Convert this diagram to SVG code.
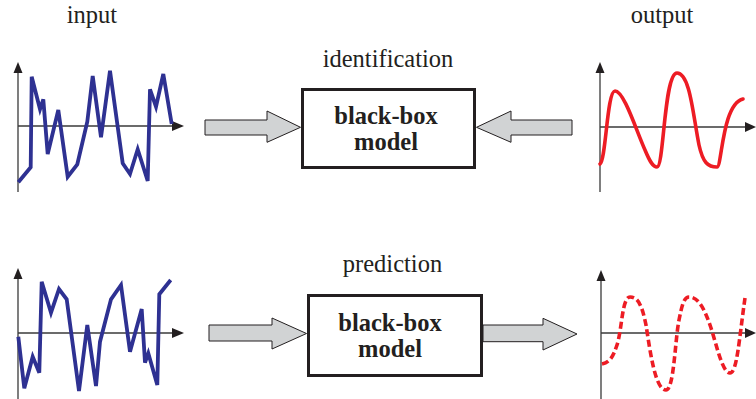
<svg xmlns="http://www.w3.org/2000/svg" width="756" height="399" viewBox="0 0 756 399">
<style>
.lbl{font-family:"Liberation Serif","Times New Roman",serif;font-size:24.5px;fill:#231f20;text-anchor:middle}
.bold{font-family:"Liberation Serif","Times New Roman",serif;font-size:24.5px;font-weight:bold;fill:#231f20;text-anchor:middle}
.box{fill:#fff;stroke:#231f20;stroke-width:3}
.arr{fill:#d1d3d4;stroke:#231f20;stroke-width:1}
.axis{stroke:#3a3a3a;stroke-width:1.3;fill:none}
.head{fill:#231f20}
.blue{fill:none;stroke:#2e3192;stroke-width:3.8;stroke-linejoin:miter;stroke-miterlimit:4}
.red{fill:none;stroke:#ed1c24;stroke-width:3.6;stroke-linecap:round}
.dash{stroke-dasharray:7 3.5;stroke-linecap:butt}
</style>
<rect width="756" height="399" fill="#fff"/>

<g id="input-plot">
<text class="lbl" x="92" y="23">input</text>
<line class="axis" x1="18" y1="192" x2="18" y2="70"/>
<polygon class="head" points="18,62 13.5,73 22.5,73"/>
<line class="axis" x1="18" y1="126" x2="175" y2="126"/>
<polygon class="head" points="184,126 172,121 172,131"/>
<polyline class="blue" points="18.3,182.3 30.7,167.3 31.7,76.7 40,109.3 43.3,99.3 47.7,154 58.3,110 67.7,176.7 77.3,164.3 87.3,121.7 92.7,76 101,137.3 110,70.7 122.7,163.3 130,174 137.7,149.3 147.7,181 150,89.3 156,106.7 163.3,74 171.7,124"/>
</g>

<g id="output-plot">
<text class="lbl" x="662" y="23">output</text>
<line class="axis" x1="600" y1="192" x2="600" y2="70"/>
<polygon class="head" points="600,62 595.5,73 604.5,73"/>
<line class="axis" x1="600" y1="127" x2="747" y2="127"/>
<polygon class="head" points="756,127 745,122 745,132"/>
<path class="red" d="M600,164 C606,160 607,91 615,91 C624,91 636,130 645,150 C650,162 653,167 657,167 C664,167 664,73 677,73 C690,73 693,115 699,145 C703,163 708,167 717,167 C722,167 722,104 743,99"/>
</g>

<g id="input-plot-2">
<line class="axis" x1="18" y1="399" x2="18" y2="276"/>
<polygon class="head" points="18,268 13.5,279 22.5,279"/>
<line class="axis" x1="18" y1="333" x2="175" y2="333"/>
<polygon class="head" points="184,333 172,328 172,338"/>
<polyline class="blue" points="18.3,336.7 24.3,388.3 32.7,356.7 39.3,372.7 41.7,281.7 51,312.7 59,289 66.7,299.3 79,391 87.3,325 96,386 100,341.7 111,299.3 121,285 130,351.7 141.7,309 145,362.7 148.3,353.3 157.3,385 159.3,294.3 170.7,280"/>
</g>

<g id="predicted-plot">
<line class="axis" x1="601" y1="399" x2="601" y2="278"/>
<polygon class="head" points="601,270 596.5,281 605.5,281"/>
<line class="axis" x1="601" y1="333" x2="747" y2="333"/>
<polygon class="head" points="756,333 745,328 745,338"/>
<path class="red dash" d="M602,364 C610,362 613,357 617,345 C622,330 622,297 630,297 C638,297 642,305 646,325 C650,350 655,390 666,390 C674,390 675,340 679,320 C682,305 684,297 689,297 C697,297 703,305 710,325 C716,342 722,373 730,373 C737,373 739,340 745,298"/>
</g>

<g id="model-identification">
<text class="lbl" x="388" y="67">identification</text>
<rect class="box" x="302.5" y="89.5" width="172" height="78"/>
<text class="bold" x="386" y="123.5">black-box</text>
<text class="bold" x="386" y="150">model</text>
</g>

<g id="model-prediction">
<text class="lbl" x="392.5" y="271.5">prediction</text>
<rect class="box" x="308.5" y="295.5" width="173" height="80"/>
<text class="bold" x="390" y="330.5">black-box</text>
<text class="bold" x="390" y="357">model</text>
</g>

<g id="connectors">
<polygon class="arr" points="205,120 267,120 267,111 300.5,127.3 267,142.3 267,135 205,135"/>
<polygon class="arr" points="476.5,127.3 511,111 511,120 572,120 572,135 511,135 511,142.3"/>
<polygon class="arr" points="209,325 272,325 272,318 306.5,333.5 272,349 272,341 209,341"/>
<polygon class="arr" points="483,325 543,325 543,318.3 577,334 543,350 543,341.7 483,341.7"/>
</g>
</svg>
